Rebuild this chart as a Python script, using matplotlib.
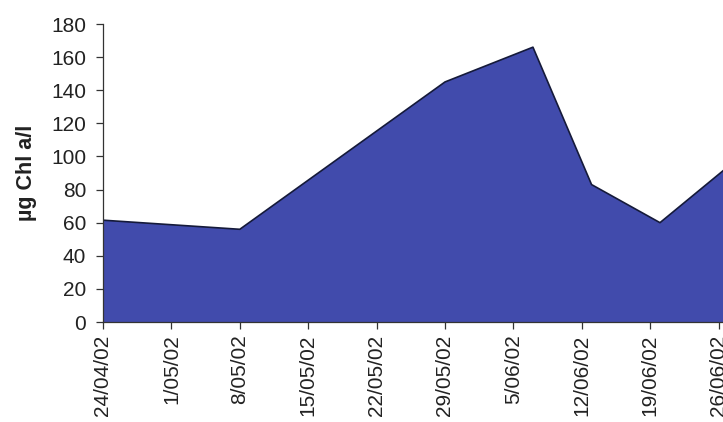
import datetime as dt
import matplotlib
matplotlib.use("Agg")
import matplotlib.pyplot as plt
import matplotlib.dates as mdates
from matplotlib.ticker import FuncFormatter

plt.rcParams['font.family'] = ['Liberation Sans', 'DejaVu Sans']

# Sampling dates and chlorophyll a concentrations
sample_dates = ["24/04/02", "8/05/02", "29/05/02", "7/06/02",
                "13/06/02", "20/06/02", "27/06/02"]
chl_values = [61.5, 56, 145, 166, 83, 60, 94]

# Weekly tick dates on the x axis
tick_dates = ["24/04/02", "1/05/02", "8/05/02", "15/05/02", "22/05/02",
              "29/05/02", "5/06/02", "12/06/02", "19/06/02", "26/06/02"]
y_ticks = [0, 20, 40, 60, 80, 100, 120, 140, 160, 180]


def parse(s):
    return dt.datetime.strptime(s, "%d/%m/%y")


x = [parse(s) for s in sample_dates]
xt = [parse(s) for s in tick_dates]

fig = plt.figure(figsize=(7.23, 4.22), dpi=100)
ax = fig.add_axes([103 / 723, 100 / 422, 684 / 723, 298 / 422])

ax.fill_between(x, chl_values, 0, facecolor="#414BAC", edgecolor="none", zorder=2)
ax.plot(x, chl_values, color="#151a3a", lw=1.2, zorder=3)

ax.set_xlim(parse("24/04/02"), parse("24/04/02") + dt.timedelta(days=70))
ax.set_ylim(0, 180)
ax.set_yticks(y_ticks)
ax.set_xticks(xt)
ax.xaxis.set_major_formatter(FuncFormatter(
    lambda v, pos: (lambda d: f"{d.day}/{d.month:02d}/{d.year % 100:02d}")(mdates.num2date(v))))

for side in ("top", "right"):
    ax.spines[side].set_visible(False)
for side in ("left", "bottom"):
    ax.spines[side].set_color("#333333")
    ax.spines[side].set_linewidth(0.9)
    ax.spines[side].set_zorder(4)

ax.tick_params(axis="y", direction="out", length=5, width=0.9, color="#333333",
               pad=7, labelsize=15, labelcolor="#222222")
ax.tick_params(axis="x", direction="out", length=5, width=0.9, color="#333333",
               pad=4, labelsize=15, labelcolor="#222222", labelrotation=90)

ax.set_ylabel("µg Chl a/l", fontsize=15.5, fontweight="bold", color="#222222")
ax.yaxis.set_label_coords(-(103 - 37) / 684, 0.5)

fig.savefig("out.png", dpi=100)
